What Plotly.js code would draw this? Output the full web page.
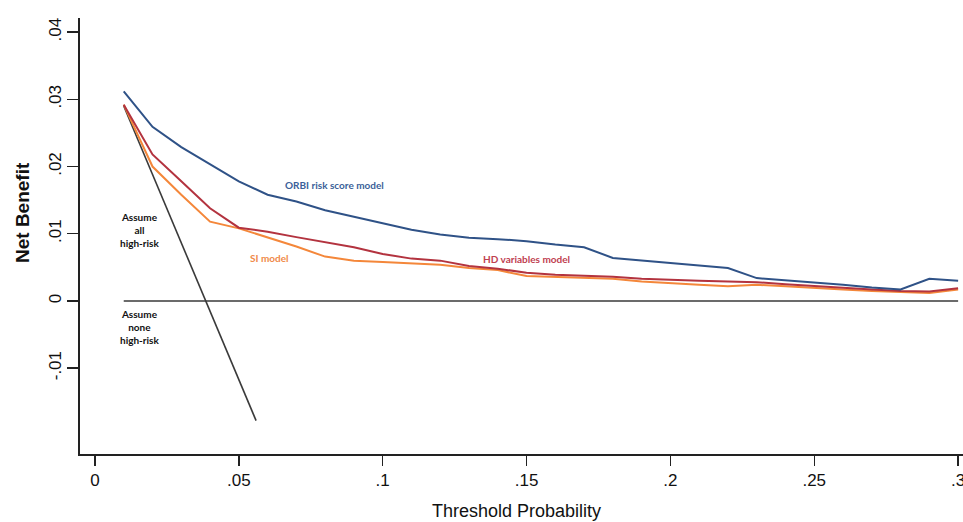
<!DOCTYPE html>
<html>
<head>
<meta charset="utf-8">
<script src="https://cdn.plot.ly/plotly-3.0.1.min.js"></script>
<style>html,body{margin:0;padding:0;background:#fff;}#chart{width:963px;height:522px;}</style>
</head>
<body>
<div id="chart"></div>
<script>
// Threshold probabilities
const thresholds = [0.01,0.02,0.03,0.04,0.05,0.06,0.07,0.08,0.09,0.10,0.11,0.12,0.13,0.14,0.15,0.16,0.17,0.18,0.19,0.20,0.21,0.22,0.23,0.24,0.25,0.26,0.27,0.28,0.29,0.30];
// Net benefit series
const orbiModel = [0.0312,0.0259,0.0229,0.0204,0.0178,0.0158,0.0148,0.0135,0.0125,0.0115,0.0106,0.0099,0.0094,0.0092,0.0089,0.0084,0.0080,0.0064,0.0060,0.0056,0.0053,0.0049,0.0034,0.0031,0.0028,0.0024,0.0020,0.0017,0.0033,0.0030];
const hdModel   = [0.0292,0.0218,0.0178,0.0138,0.0109,0.0103,0.0095,0.0088,0.0080,0.0070,0.0063,0.0060,0.0052,0.0048,0.0042,0.0039,0.0038,0.0036,0.0033,0.0031,0.0030,0.0029,0.0028,0.0025,0.0022,0.0019,0.0017,0.0015,0.0014,0.0019];
const siModel   = [0.0292,0.0200,0.0158,0.0118,0.0108,0.0095,0.0081,0.0066,0.0060,0.0058,0.0056,0.0054,0.0049,0.0046,0.0037,0.0036,0.0035,0.0033,0.0029,0.0026,0.0024,0.0022,0.0024,0.0022,0.0019,0.0017,0.0015,0.0013,0.0012,0.0017];
// Treat-all ("Assume all high-risk") line
const allThresholds = [0.01,0.02,0.03,0.04,0.05,0.056];
const allNB = [0.0290,0.0188,0.0086,-0.0016,-0.0118,-0.0178];
// Treat-none line
const noneThresholds = [0.01,0.30];
const noneNB = [0,0];
// Tick labels
const xTickVals = [0,0.05,0.1,0.15,0.2,0.25,0.3];
const xTickText = ['0','.05','.1','.15','.2','.25','.3'];
const yTickVals = [-0.01,0,0.01,0.02,0.03,0.04];
const yTickText = ['-.01','0','.01','.02','.03','.04'];

const traces = [
  {x: noneThresholds, y: noneNB, mode:'lines', line:{color:'#3a3a3a', width:1.6}, name:'Assume none high-risk'},
  {x: allThresholds, y: allNB, mode:'lines', line:{color:'#3a3a3a', width:1.6}, name:'Assume all high-risk'},
  {x: thresholds, y: siModel, mode:'lines', line:{color:'#f4873a', width:2}, name:'SI model'},
  {x: thresholds, y: hdModel, mode:'lines', line:{color:'#b3333f', width:2}, name:'HD variables model'},
  {x: thresholds, y: orbiModel, mode:'lines', line:{color:'#2f5287', width:2}, name:'ORBI risk score model'}
];

const annFont = {family:'Lato, "Open Sans", sans-serif', size:10};
const tickFont = {family:'"Liberation Sans", Arial, sans-serif', size:17, color:'#111'};
const layout = {
  width:963, height:522,
  margin:{l:80, r:0, t:18, b:68},
  paper_bgcolor:'#fff', plot_bgcolor:'#fff',
  showlegend:false,
  xaxis:{
    range:[-0.0052,0.3017], tickvals:xTickVals, ticktext:xTickText,
    showgrid:false, zeroline:false, showline:true, linecolor:'#222', linewidth:2,
    ticks:'outside', ticklen:10, tickwidth:1.4, tickcolor:'#222',
    tickfont:tickFont, ticklabeloverflow:'allow'
  },
  yaxis:{
    range:[-0.02277,0.0421], tickvals:yTickVals, ticktext:yTickText, tickangle:-90,
    showgrid:false, zeroline:false, showline:true, linecolor:'#222', linewidth:1.6,
    ticks:'outside', ticklen:11, tickwidth:1.4, tickcolor:'#222',
    tickfont:tickFont, ticklabeloverflow:'allow'
  },
  annotations:[
    {xref:'paper', yref:'paper', x:(22-80)/883, y:(454-213)/436, xanchor:'center', yanchor:'middle',
     text:'<b>Net Benefit</b>', textangle:-90, showarrow:false,
     font:{family:'"Liberation Sans", Arial, sans-serif', size:19, color:'#111'}},
    {xref:'paper', yref:'paper', x:(516-80)/883, y:-(511-454)/436, xanchor:'center', yanchor:'middle',
     text:'Threshold Probability', showarrow:false,
     font:{family:'"Liberation Sans", Arial, sans-serif', size:18, color:'#111'}},
    {x:0.0834, y:0.0173, text:'<b>ORBI risk score model</b>', showarrow:false, font:Object.assign({color:'#3b5f99'}, annFont)},
    {x:0.0156, y:0.0106, text:'<b>Assume<br>all<br>high-risk</b>', showarrow:false, align:'center', font:Object.assign({color:'#111'}, annFont)},
    {x:0.0156, y:-0.0039, text:'<b>Assume<br>none<br>high-risk</b>', showarrow:false, align:'center', font:Object.assign({color:'#111'}, annFont)},
    {x:0.0605, y:0.0064, text:'<b>SI model</b>', showarrow:false, font:Object.assign({color:'#f08a4a'}, annFont)},
    {x:0.150, y:0.0063, text:'<b>HD variables model</b>', showarrow:false, font:Object.assign({color:'#c04050'}, annFont)}
  ]
};

Plotly.newPlot('chart', traces, layout, {staticPlot:true, displayModeBar:false});
</script>
</body>
</html>
